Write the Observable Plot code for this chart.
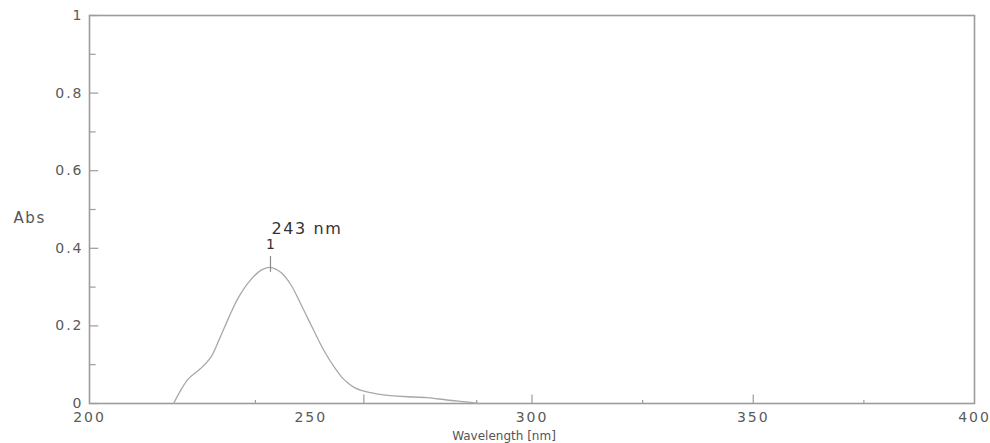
<!DOCTYPE html>
<html><head><meta charset="utf-8">
<script src="https://cdn.jsdelivr.net/npm/d3@7"></script>
<script src="https://cdn.jsdelivr.net/npm/@observablehq/plot@0.6"></script>
<style>
body{margin:0;background:#fff;}
svg g[aria-label$="tick label"] text{letter-spacing:2px;}
</style>
</head><body><div id="chart"></div>
<script>
const wavelength = [219.0, 220.6, 222.4, 225.1, 227.4, 229.2, 231.5, 233.7, 236.0, 238.7, 240.9, 243.2, 245.4, 248.1, 250.3, 253.0, 255.6, 257.0, 258.4, 259.9, 261.6, 263.5, 266.0, 271.0, 276.3, 280.8, 286.1, 288.0];
const absorbance = [0.0, 0.034, 0.064, 0.090, 0.119, 0.162, 0.222, 0.274, 0.313, 0.343, 0.351, 0.338, 0.308, 0.248, 0.197, 0.136, 0.089, 0.068, 0.053, 0.041, 0.033, 0.028, 0.023, 0.018, 0.015, 0.009, 0.003, 0.0];
const xTickLabels = [200, 250, 300, 350, 400];
const yTickLabels = [0, 0.2, 0.4, 0.6, 0.8, 1];
const yMinorTicks = [0.1, 0.3, 0.5, 0.7, 0.9];
const xInnerMajor = [262, 300, 350];
const xInnerMinor = [237.5, 287.5, 325, 375];
const peakWavelength = [240.9];
const peakAbs = [0.351];
const peakIndex = ["1"];
const peakText = ["243 nm"];

const data = wavelength.map((w, i) => ({w, a: absorbance[i]}));
const peaks = peakWavelength.map((w, i) => ({w, a: peakAbs[i], idx: peakIndex[i], label: peakText[i]}));

const gray = "#9c9c9c";
const chart = Plot.plot({
  width: 990,
  height: 443,
  marginLeft: 89,
  marginRight: 16,
  marginTop: 15,
  marginBottom: 40,
  style: {fontFamily: "DejaVu Sans", fontSize: "14px", background: "#fff", color: "#5a5a5a"},
  x: {domain: [200, 400]},
  y: {domain: [0, 1]},
  marks: [
    Plot.ruleY(yTickLabels, {y: d => d, x1: 200, x2: 202.1, stroke: gray, strokeWidth: 1.2}),
    Plot.ruleY(yMinorTicks, {y: d => d, x1: 200, x2: 201.5, stroke: gray, strokeWidth: 1.2}),
    Plot.ruleX(xInnerMajor, {x: d => d, y1: 0, y2: 0.022, stroke: gray, strokeWidth: 1.2}),
    Plot.ruleX(xInnerMinor, {x: d => d, y1: 0, y2: 0.008, stroke: gray, strokeWidth: 1.2}),
    Plot.frame({stroke: gray, strokeWidth: 1.6}),
    Plot.line(data, {x: "w", y: "a", stroke: "#a8a8a8", strokeWidth: 1.3, curve: "catmull-rom"}),
    Plot.ruleX(peaks, {x: "w", y1: d => d.a - 0.013, y2: d => d.a + 0.028, stroke: "#8a8a8a", strokeWidth: 1.2}),
    Plot.text(peaks, {x: "w", y: "a", text: "idx", dy: -23, fontSize: 14, fill: "#333"}),
    Plot.text(peaks, {x: "w", y: "a", text: "label", dx: 1, dy: -38, textAnchor: "start", fontSize: 16, fill: "#333"}),
    Plot.axisX(xTickLabels, {tickSize: 0, tickPadding: 9, fontSize: 14, fill: "#5a5a5a", label: null}),
    Plot.axisY(yTickLabels, {tickSize: 0, tickPadding: 6, fontSize: 14, fill: "#5a5a5a", label: null, tickFormat: d3.format("")}),
    Plot.text(["Abs"], {frameAnchor: "left", dx: -76, dy: 9, textAnchor: "start", fontSize: 15, fill: "#555"}),
    Plot.text(["Wavelength [nm]"], {frameAnchor: "bottom", dx: -28, dy: 36, fontSize: 12, fill: "#555"})
  ]
});
d3.select(chart).selectAll("text")
  .filter(function() { return this.textContent === "Abs" || this.textContent === "243 nm"; })
  .style("letter-spacing", "1.6px");
document.getElementById("chart").appendChild(chart);
</script>
</body></html>
